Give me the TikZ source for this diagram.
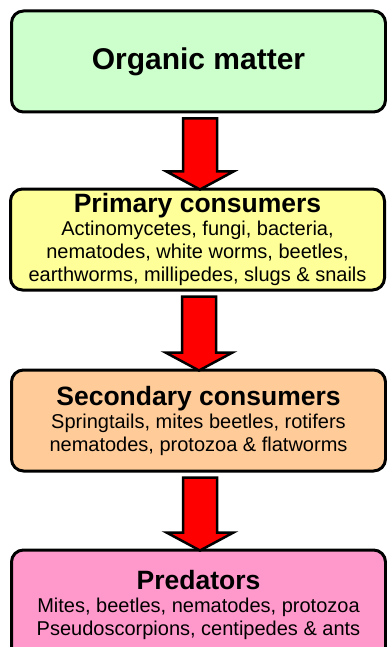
\documentclass[tikz,border=0pt]{standalone}
\usepackage{fontspec}
\setmainfont{Liberation Sans}
\usetikzlibrary{positioning, calc}
\definecolor{orggreen}{HTML}{CCFFCC}
\definecolor{primyellow}{HTML}{FFFF99}
\definecolor{secpeach}{HTML}{FFCC99}
\definecolor{predpink}{HTML}{FF99CC}
\tikzset{every node/.append style={align=center, inner sep=3pt}}
\newcommand{\hd}[1]{{\bfseries\fontsize{26.5}{23}\selectfont #1}}
% fat red arrow from the bottom of one box to the top of the next
\newcommand{\fatarrow}[2]{%
  \draw[fatarr] let \p1=($(#1.south)+(1.5pt,-5pt)$), \p2=($(#2.north)+(0pt,-2pt)$) in
    (\x1-17pt,\y1) -- (\x1+17pt,\y1) -- (\x1+17pt,\y2+18pt) -- (\x1+33.5pt,\y2+18pt)
    -- (\x1,\y2) -- (\x1-33.5pt,\y2+18pt) -- (\x1-17pt,\y2+18pt) -- cycle;}

\begin{document}
\begin{tikzpicture}[x=1pt, y=1pt,
    box/.style={rectangle, rounded corners=12pt, draw=black, line width=3pt, minimum width=374pt, minimum height=101pt, font=\fontsize{20}{23}\selectfont},
    fatarr/.style={draw=black, fill=red, line width=2.5pt, miter limit=10}]
\useasboundingbox (0,0) rectangle (386,-647);
\node[box, fill=orggreen, font=\bfseries\fontsize{30}{34}\selectfont] (organic) at (198.5,-61.5) {Organic matter};
\node[box, fill=primyellow, below=74pt of organic, xshift=-1pt] (primary) {\hd{Primary consumers}\\
    Actinomycetes, fungi, bacteria,\\ nematodes, white worms, beetles,\\ earthworms, millipedes, slugs \& snails};
\node[box, fill=secpeach, below=77pt of primary, xshift=1pt] (secondary) {\hd{Secondary consumers}\\
    Springtails, mites beetles, rotifers\\ nematodes, protozoa \& flatworms};
\node[box, fill=predpink, below=76pt of secondary, minimum height=110pt] (predators) {\hd{Predators}\\
    Mites, beetles, nematodes, protozoa\\ Pseudoscorpions, centipedes \& ants};
\fatarrow{organic}{primary}
\fatarrow{primary}{secondary}
\fatarrow{secondary}{predators}
\end{tikzpicture}
\end{document}
